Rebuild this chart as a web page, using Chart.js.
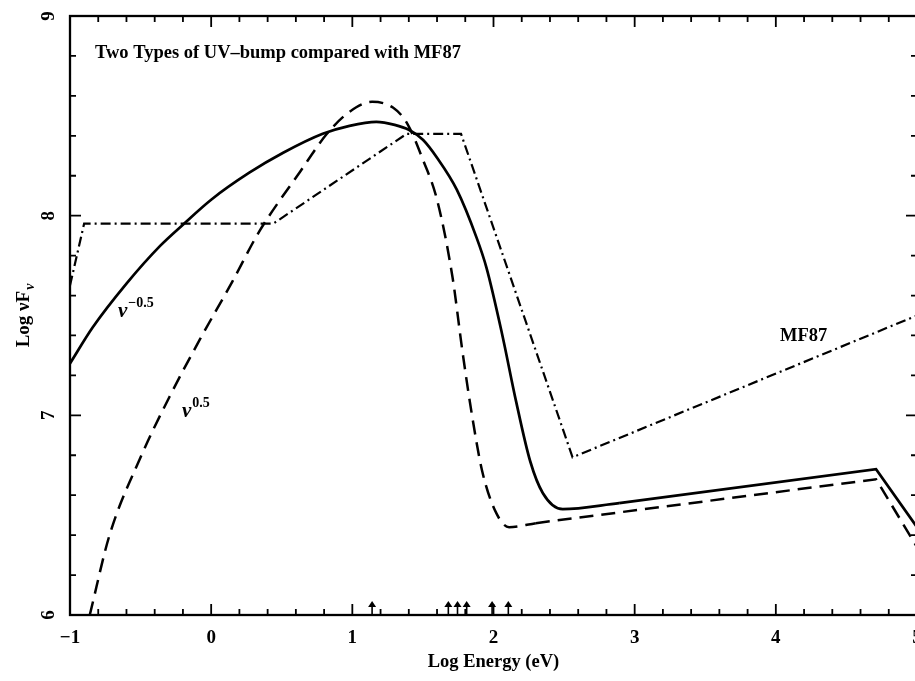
<!DOCTYPE html>
<html>
<head>
<meta charset="utf-8">
<title>Two Types of UV-bump compared with MF87</title>
<script src="https://cdn.jsdelivr.net/npm/chart.js@4.4.1/dist/chart.umd.min.js"></script>
<style>
  html, body { margin: 0; padding: 0; background: #fff; overflow: hidden; }
  canvas { display: block; }
</style>
</head>
<body>
<canvas id="sed" width="930" height="681"></canvas>
<script>
// Log energy (eV) vs log nuF_nu for the two bump shapes and the MF87 continuum.

// nu^-0.5 bump: curved part, then the straight X-ray power law
const SOFT_X = [-1, -0.84, -0.6, -0.36, -0.2, 0.0, 0.27, 0.51, 0.79, 0.98, 1.17, 1.30, 1.40, 1.50, 1.60, 1.74, 1.88, 1.95, 2.06, 2.16, 2.26, 2.35, 2.49, 2.89];
const SOFT_Y = [7.26, 7.44, 7.66, 7.85, 7.955, 8.08, 8.215, 8.315, 8.41, 8.45, 8.47, 8.455, 8.43, 8.38, 8.29, 8.13, 7.89, 7.74, 7.41, 7.07, 6.77, 6.61, 6.53, 6.56];
const SOFT_TAIL_X = [2.89, 4.71, 5.0];
const SOFT_TAIL_Y = [6.56, 6.73, 6.44];

// nu^0.5 bump
const HARD_X = [-0.86, -0.72, -0.5, -0.29, -0.08, 0.15, 0.34, 0.63, 0.82, 0.98, 1.14, 1.29, 1.39, 1.50, 1.60, 1.71, 1.78, 1.85, 1.92, 2.02, 2.11, 2.3];
const HARD_Y = [6.0, 6.40, 6.79, 7.10, 7.38, 7.67, 7.92, 8.22, 8.41, 8.52, 8.57, 8.54, 8.46, 8.28, 8.08, 7.69, 7.32, 6.99, 6.72, 6.51, 6.44, 6.46];
const HARD_TAIL_X = [2.3, 4.71, 5.0];
const HARD_TAIL_Y = [6.46, 6.68, 6.34];

// Mathews & Ferland 1987 broken power law
const MF87_X = [-1, -0.9, 0.44, 1.385, 1.77, 2.56, 5];
const MF87_Y = [7.65, 7.96, 7.96, 8.41, 8.41, 6.79, 7.5];

// energies marked with arrows along the bottom axis
const ARROW_X = [1.14, 1.68, 1.745, 1.81, 1.99, 2.105];

const X_MIN = -1, X_MAX = 5, Y_MIN = 6, Y_MAX = 9;
const Y_TICKS = [6, 7, 8, 9];

const SERIF = '"Liberation Serif", "Times New Roman", serif';
const INK = "#000";

const pts = (xs, ys) => xs.map((x, i) => ({ x, y: ys[i] }));

function line(data, extra) {
  return Object.assign({
    data,
    showLine: true,
    borderColor: INK,
    borderWidth: 2.7,
    pointRadius: 0,
    fill: false,
    tension: 0,
  }, extra);
}

// Inward ticks on all four sides, rotated y labels, annotations.
const frame = {
  id: "frame",
  afterDraw(chart) {
    const { ctx, chartArea: a, scales: { x, y } } = chart;
    ctx.save();
    ctx.strokeStyle = INK;
    ctx.fillStyle = INK;

    ctx.lineWidth = 2.3;
    ctx.strokeRect(a.left, a.top, a.right - a.left, a.bottom - a.top);

    ctx.lineWidth = 1.8;
    ctx.beginPath();
    for (let i = 0; i <= (X_MAX - X_MIN) * 5; i++) {
      const v = X_MIN + i / 5;
      const px = x.getPixelForValue(v);
      const len = i % 5 === 0 ? 11 : 6;
      ctx.moveTo(px, a.bottom); ctx.lineTo(px, a.bottom - len);
      ctx.moveTo(px, a.top); ctx.lineTo(px, a.top + len);
    }
    for (let i = 0; i <= (Y_MAX - Y_MIN) * 5; i++) {
      const v = Y_MIN + i / 5;
      const py = y.getPixelForValue(v);
      const len = i % 5 === 0 ? 11 : 6;
      ctx.moveTo(a.left, py); ctx.lineTo(a.left + len, py);
      ctx.moveTo(a.right, py); ctx.lineTo(a.right - len, py);
    }
    ctx.stroke();

    // y tick labels, turned on their side
    ctx.font = `bold 19px ${SERIF}`;
    ctx.textAlign = "center";
    ctx.textBaseline = "middle";
    Y_TICKS.forEach((v) => {
      ctx.save();
      ctx.translate(a.left - 21, y.getPixelForValue(v));
      ctx.rotate(-Math.PI / 2);
      ctx.fillText(String(v), 0, 0);
      ctx.restore();
    });

    // y axis title: Log nuF_nu
    ctx.save();
    ctx.translate(29, 316);
    ctx.rotate(-Math.PI / 2);
    ctx.textAlign = "left";
    ctx.textBaseline = "alphabetic";
    const main = "Log \u03bdF";
    ctx.font = `bold 19px ${SERIF}`;
    const wMain = ctx.measureText(main).width;
    ctx.font = `bold italic 14px ${SERIF}`;
    const wSub = ctx.measureText("\u03bd").width;
    const x0 = -(wMain + wSub) / 2;
    ctx.font = `bold 19px ${SERIF}`;
    ctx.fillText(main, x0, 0);
    ctx.font = `bold italic 14px ${SERIF}`;
    ctx.fillText("\u03bd", x0 + wMain + 1, 5);
    ctx.restore();

    // arrows at the bottom
    ctx.lineWidth = 1.6;
    ARROW_X.forEach((v) => {
      const px = x.getPixelForValue(v);
      const y0 = y.getPixelForValue(6.005);
      const y1 = y.getPixelForValue(6.07);
      ctx.beginPath();
      ctx.moveTo(px, y0); ctx.lineTo(px, y1 + 2);
      ctx.stroke();
      ctx.beginPath();
      ctx.moveTo(px, y1);
      ctx.lineTo(px - 4, y1 + 6);
      ctx.lineTo(px + 4, y1 + 6);
      ctx.closePath();
      ctx.fill();
    });

    // plot title
    ctx.textAlign = "left";
    ctx.textBaseline = "alphabetic";
    ctx.font = `bold 18.5px ${SERIF}`;
    ctx.fillText("Two Types of UV\u2013bump compared with MF87", a.left + 25, a.top + 42);

    // curve labels
    ctx.font = `bold 18.5px ${SERIF}`;
    ctx.fillText("MF87", x.getPixelForValue(4.03), y.getPixelForValue(7.37));
    const power = (vx, vy, sup) => {
      const px = x.getPixelForValue(vx), py = y.getPixelForValue(vy);
      ctx.font = `bold italic 21px ${SERIF}`;
      ctx.fillText("\u03bd", px, py);
      const w = ctx.measureText("\u03bd").width;
      ctx.font = `bold 14px ${SERIF}`;
      ctx.fillText(sup, px + w + 1, py - 10);
    };
    power(-0.66, 7.49, "\u22120.5");
    power(-0.207, 6.99, "0.5");

    ctx.restore();
  },
};

new Chart(document.getElementById("sed"), {
  type: "scatter",
  data: {
    datasets: [
      line(pts(SOFT_X, SOFT_Y), { cubicInterpolationMode: "monotone" }),
      line(pts(SOFT_TAIL_X, SOFT_TAIL_Y)),
      line(pts(HARD_X, HARD_Y), { cubicInterpolationMode: "monotone", borderDash: [14, 8], borderWidth: 2.5 }),
      line(pts(HARD_TAIL_X, HARD_TAIL_Y), { borderDash: [14, 8], borderWidth: 2.5 }),
      line(pts(MF87_X, MF87_Y), { borderDash: [10, 4, 2, 4], borderWidth: 2.2 }),
    ],
  },
  options: {
    responsive: false,
    devicePixelRatio: 1,
    animation: false,
    layout: { padding: { left: 70, top: 16, right: 13, bottom: 4 } },
    plugins: { legend: { display: false }, tooltip: { enabled: false } },
    scales: {
      x: {
        type: "linear",
        min: X_MIN,
        max: X_MAX,
        grid: { display: false, drawTicks: false },
        border: { display: false },
        // edge labels may hang past the frame; keep the layout padding exact
        afterFit: (scale) => { scale.paddingLeft = 0; scale.paddingRight = 0; },
        ticks: {
          stepSize: 1,
          autoSkip: false,
          maxRotation: 0,
          padding: 12,
          color: INK,
          font: { family: SERIF, weight: "bold", size: 19 },
          callback: (v) => (Number.isInteger(v) ? String(v).replace("-", "\u2212") : ""),
        },
        title: {
          display: true,
          text: "Log Energy (eV)",
          color: INK,
          padding: { top: -11, bottom: 4 },
          font: { family: SERIF, weight: "bold", size: 18.5 },
        },
      },
      y: { type: "linear", min: Y_MIN, max: Y_MAX, display: false },
    },
  },
  plugins: [frame],
});
</script>
</body>
</html>
